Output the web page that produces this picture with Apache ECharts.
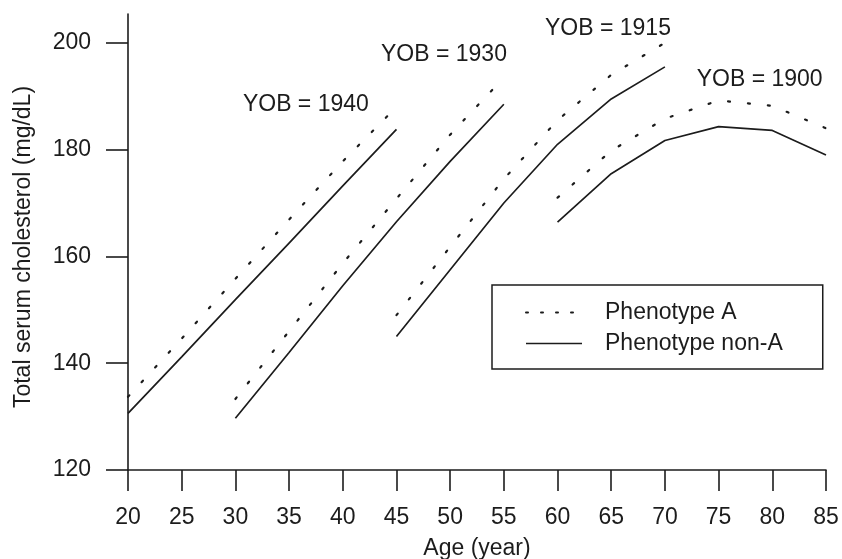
<!DOCTYPE html>
<html>
<head>
    <meta charset="utf-8">
    <title>Total serum cholesterol by age</title>
    <script src="https://cdn.jsdelivr.net/npm/echarts@6/dist/echarts.min.js"></script>
    <style>
        * {
            margin: 0;
            padding: 0
        }

        html, body {
            width: 100%;
            height: 100%;
            background: #fff;
        }

        #main {
            width: 842px;
            height: 559px;
        }
    </style>
</head>
<body>
<div id="main"></div>
<script type="text/javascript">
    /*-------------------- data --------------------*/
    // age points for each year-of-birth cohort
    var ages1940 = [20, 25, 30, 35, 40, 45];
    var ages1930 = [30, 35, 40, 45, 50, 55];
    var ages1915 = [45, 50, 55, 60, 65, 70];
    var ages1900 = [60, 65, 70, 75, 80, 85];

    // Phenotype A (dotted)
    var phenoA1940 = [133.7, 144.6, 155.8, 166.9, 177.8, 188];
    var phenoA1930 = [133.3, 146, 158.7, 170.8, 182.8, 193.5];
    var phenoA1915 = [149, 161.8, 174.5, 185.5, 194, 200];
    var phenoA1900 = [171, 179.8, 185.8, 189.2, 188.2, 184];

    // Phenotype non-A (solid)
    var nonA1940 = [130.6, 141.2, 151.9, 162.5, 173.2, 183.8];
    var nonA1930 = [129.7, 142, 154.5, 166.5, 177.8, 188.5];
    var nonA1915 = [145, 157.5, 170, 181, 189.5, 195.5];
    var nonA1900 = [166.4, 175.5, 181.7, 184.3, 183.6, 179];

    // axis ticks
    var xTicks = [20, 25, 30, 35, 40, 45, 50, 55, 60, 65, 70, 75, 80, 85];
    var yTicks = [120, 140, 160, 180, 200];

    // cohort labels, anchored at (age, cholesterol) = left / middle of the text
    var cohortNames = ['YOB = 1940', 'YOB = 1930', 'YOB = 1915', 'YOB = 1900'];
    var cohortLabelAge = [30.7, 43.56, 58.83, 72.96];
    var cohortLabelChol = [188.4, 197.8, 202.7, 193.1];

    /*-------------------- chart --------------------*/
    var FONT = "'Liberation Sans', Arial, Helvetica, sans-serif";
    var INK = '#1c1c1c';

    function pairs(xs, ys) {
        return xs.map(function (x, i) {
            return [x, ys[i]];
        });
    }

    function dotted(data) {
        return {
            name: 'Phenotype A',
            type: 'line',
            data: data,
            symbol: 'none',
            silent: true,
            itemStyle: {color: INK},
            lineStyle: {color: INK, width: 2.2, type: [2, 18], cap: 'round'}
        };
    }

    function solid(data) {
        return {
            name: 'Phenotype non-A',
            type: 'line',
            data: data,
            symbol: 'none',
            silent: true,
            itemStyle: {color: INK},
            lineStyle: {color: INK, width: 1.7, type: 'solid'}
        };
    }

    var chart = echarts.init(document.getElementById('main'), null, {renderer: 'canvas'});
    chart.setOption({
        animation: false,
        backgroundColor: '#fff',
        grid: {
            left: 128,
            right: 16,
            top: 14,
            bottom: 89,
            containLabel: false,
            outerBoundsMode: 'none'
        },
        legend: {
            orient: 'vertical',
            left: 492,
            top: 285,
            padding: [16, 40, 14, 33],
            itemWidth: 56,
            itemHeight: 10,
            itemGap: 8,
            borderColor: INK,
            borderWidth: 1.5,
            borderRadius: 0,
            selectedMode: false,
            itemStyle: {opacity: 0},
            textStyle: {
                fontFamily: FONT,
                fontSize: 23,
                lineHeight: 22,
                color: INK,
                padding: [0, 0, 0, 18]
            },
            data: [
                {name: 'Phenotype A', itemStyle: {opacity: 0}, lineStyle: {type: [2, 13], width: 2, color: INK}},
                {name: 'Phenotype non-A', itemStyle: {opacity: 0}, lineStyle: {type: 'solid', width: 1.5, color: INK}}
            ]
        },
        xAxis: {
            type: 'value',
            min: 20,
            max: 85,
            interval: 5,
            name: 'Age (year)',
            nameLocation: 'middle',
            nameGap: 67,
            nameTextStyle: {fontFamily: FONT, fontSize: 23, color: INK},
            axisLine: {show: true, onZero: false, lineStyle: {color: INK, width: 1.6}},
            axisTick: {show: true, inside: false, length: 21, customValues: xTicks, lineStyle: {color: INK, width: 1.6}},
            axisLabel: {fontFamily: FONT, fontSize: 23, color: INK, margin: 36, customValues: xTicks},
            splitLine: {show: false}
        },
        yAxis: {
            type: 'value',
            min: 120,
            max: 205.4,
            interval: 20,
            name: 'Total serum cholesterol (mg/dL)',
            nameLocation: 'middle',
            nameGap: 93,
            nameTextStyle: {fontFamily: FONT, fontSize: 23, color: INK, padding: [0, 10, 0, 0]},
            axisLine: {show: true, onZero: false, lineStyle: {color: INK, width: 1.6}},
            axisTick: {show: true, inside: false, length: 22, customValues: yTicks, lineStyle: {color: INK, width: 1.6}},
            axisLabel: {fontFamily: FONT, fontSize: 23, color: INK, margin: 37, customValues: yTicks},
            splitLine: {show: false}
        },
        series: [
            dotted(pairs(ages1940, phenoA1940)),
            solid(pairs(ages1940, nonA1940)),
            dotted(pairs(ages1930, phenoA1930)),
            solid(pairs(ages1930, nonA1930)),
            dotted(pairs(ages1915, phenoA1915)),
            solid(pairs(ages1915, nonA1915)),
            dotted(pairs(ages1900, phenoA1900)),
            solid(pairs(ages1900, nonA1900))
        ]
    });

    // cohort labels placed in data coordinates
    var labelGraphics = cohortNames.map(function (txt, i) {
        var p = chart.convertToPixel({gridIndex: 0}, [cohortLabelAge[i], cohortLabelChol[i]]);
        return {
            type: 'text',
            x: p[0],
            y: p[1],
            silent: true,
            style: {
                text: txt,
                fontFamily: FONT,
                fontSize: 23,
                fill: INK,
                align: 'left',
                verticalAlign: 'middle'
            }
        };
    });
    chart.setOption({graphic: labelGraphics});
</script>
</body>
</html>
